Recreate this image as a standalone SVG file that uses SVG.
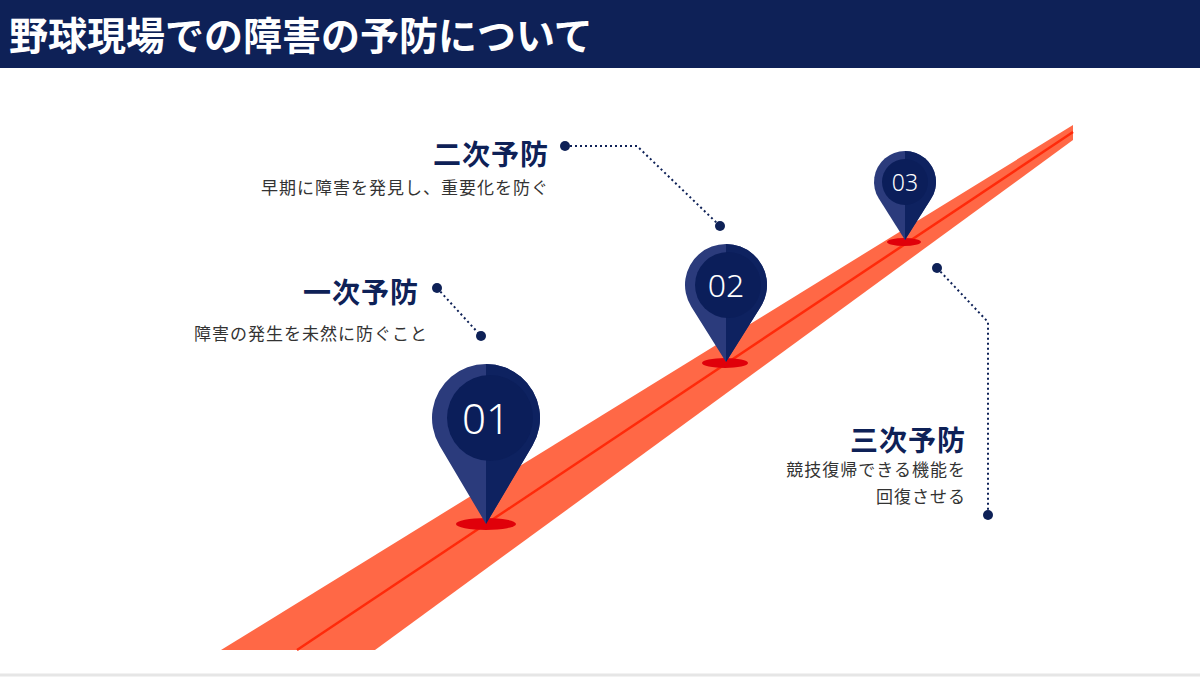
<svg xmlns="http://www.w3.org/2000/svg" width="1200" height="677" viewBox="0 0 1200 677">
<style>
.h{font-family:"Noto Sans CJK JP",sans-serif;font-weight:700;font-size:28px;fill:#0e2157;text-anchor:end;letter-spacing:1px}
.s{font-family:"Noto Sans CJK JP",sans-serif;font-size:17px;fill:#333;text-anchor:end;letter-spacing:1px}
.n{font-family:"Noto Sans",sans-serif;font-weight:300;fill:#fff;text-anchor:middle}
.dl{fill:none;stroke:#0e2157;stroke-width:2;stroke-dasharray:2 3}
.dot{fill:#0e2157}
.lt{fill:#2b3b7c}.dk{fill:#0e2260}.in{fill:#0b1e5a}
.sh{fill:#e0000a}
</style>
<defs>
<clipPath id="r1"><rect x="486" y="300" width="100" height="240"/></clipPath>
<clipPath id="r2"><rect x="726" y="200" width="100" height="180"/></clipPath>
<clipPath id="r3"><rect x="905" y="140" width="100" height="120"/></clipPath>
</defs>
<rect width="1200" height="677" fill="#fff"/>
<rect x="0" y="0" width="1200" height="68" fill="#0e2157"/>
<text x="9" y="50" font-family="Noto Sans CJK JP,sans-serif" font-weight="700" font-size="39" fill="#fff">野球現場での障害の予防について</text>
<line x1="0" y1="675" x2="1200" y2="675" stroke="#e6e6e6" stroke-width="3"/>
<g id="road">
<polygon points="221,650 1073,125 1073,140 375,650" fill="#ff6846"/>
<line x1="297" y1="650" x2="1073" y2="132" stroke="#ff2a0a" stroke-width="2.5"/>
</g>
<g id="connectors">
<path class="dl" d="M437,288 L481,336"/>
<path class="dl" d="M565,146 L637,146 L720,226"/>
<path class="dl" d="M937,268 L988,322 L988,515"/>
<circle class="dot" cx="437" cy="288" r="5"/><circle class="dot" cx="481" cy="336" r="5"/>
<circle class="dot" cx="565" cy="146" r="5"/><circle class="dot" cx="720" cy="226" r="5"/>
<circle class="dot" cx="937" cy="268" r="5"/><circle class="dot" cx="988" cy="515" r="5"/>
</g>
<g id="pin01">
<ellipse class="sh" cx="486" cy="524" rx="30" ry="6"/>
<path class="lt" d="M486,524 L439.5,445.5 A54,54 0 1 1 532.5,445.5 Z"/>
<path class="dk" clip-path="url(#r1)" d="M486,524 L439.5,445.5 A54,54 0 1 1 532.5,445.5 Z"/>
<circle class="in" cx="490" cy="418" r="43"/>
<text class="n" x="486" y="434" font-size="42">01</text>
</g>
<g id="pin02">
<ellipse class="sh" cx="725" cy="363" rx="23" ry="5"/>
<path class="lt" d="M726,362 L691.3,306.8 A41,41 0 1 1 760.7,306.8 Z"/>
<path class="dk" clip-path="url(#r2)" d="M726,362 L691.3,306.8 A41,41 0 1 1 760.7,306.8 Z"/>
<circle class="in" cx="728" cy="285" r="33"/>
<text class="n" x="726" y="297" font-size="32">02</text>
</g>
<g id="pin03">
<ellipse class="sh" cx="904" cy="242" rx="17" ry="4"/>
<path class="lt" d="M905,240 L878.8,198.6 A31,31 0 1 1 931.2,198.6 Z"/>
<path class="dk" clip-path="url(#r3)" d="M905,240 L878.8,198.6 A31,31 0 1 1 931.2,198.6 Z"/>
<circle class="in" cx="905" cy="182" r="23"/>
<text class="n" x="905" y="191" font-size="23">03</text>
</g>
<g id="label1">
<text class="h" x="419" y="303">一次予防</text>
<text class="s" x="428" y="340">障害の発生を未然に防ぐこと</text>
</g>
<g id="label2">
<text class="h" x="549" y="165">二次予防</text>
<text class="s" x="549" y="194">早期に障害を発見し、重要化を防ぐ</text>
</g>
<g id="label3">
<text class="h" x="966" y="451">三次予防</text>
<text class="s" x="966" y="476">競技復帰できる機能を</text>
<text class="s" x="966" y="503">回復させる</text>
</g>
</svg>
